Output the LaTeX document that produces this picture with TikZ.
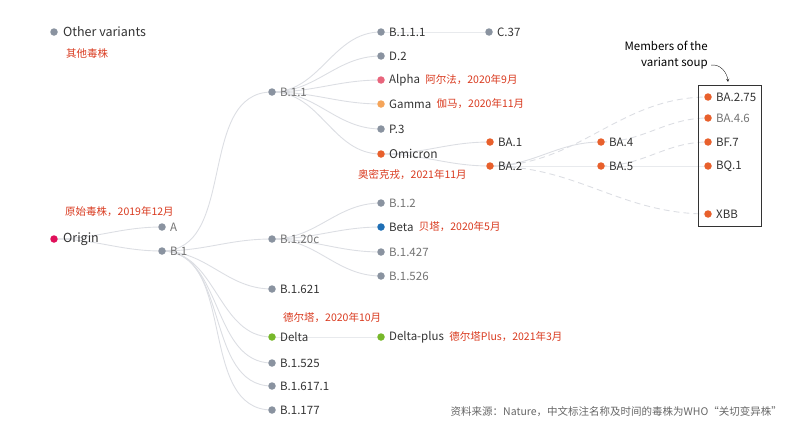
\documentclass[tikz,border=0pt]{standalone}
\usepackage{fontspec}
\setmainfont{Noto Sans CJK SC}
\usetikzlibrary{positioning}
\definecolor{dotgray}{HTML}{8A93A0}
\definecolor{omicol}{HTML}{E8602C}
\definecolor{alphacol}{HTML}{E8657C}
\definecolor{gammacol}{HTML}{F5A55A}
\definecolor{betacol}{HTML}{1F6FB5}
\definecolor{deltacol}{HTML}{77B82A}
\definecolor{origcol}{HTML}{E0105A}
\definecolor{note}{HTML}{D93A1F}
\definecolor{edge}{HTML}{DCDEE3}
\tikzset{
  dot/.style={circle, fill=#1, inner sep=0pt, minimum size=7.5pt},
  vname/.style={font=\fontsize{11.5}{13}\selectfont, text=black!80, inner sep=1pt},
  grayname/.style={vname, text=black!55},
  cn/.style={font=\fontsize{10.5}{12}\selectfont, text=note, inner sep=0pt, anchor=west},
  tree/.style={draw=edge, line width=0.9pt},
  soup/.style={tree, dash pattern=on 6pt off 4pt}
}
\begin{document}
\begin{tikzpicture}[x=1pt,y=-1pt]
\useasboundingbox (0,0) rectangle (792,434);
% edges first, dots on top
\coordinate (cOrig) at (54,239);
\coordinate (cA) at (162,227);  \coordinate (cB1) at (162,251);
\coordinate (cB11) at (272,92); \coordinate (cB120) at (272,239);
\coordinate (cB1621) at (272,289); \coordinate (cDelta) at (272,337);
\coordinate (cB1525) at (272,363); \coordinate (cB16171) at (272,386);
\coordinate (cB1177) at (272,410);
\coordinate (cB111) at (381,32); \coordinate (cC37) at (489,32);
\coordinate (cD2) at (381,56); \coordinate (cAlpha) at (381,80);
\coordinate (cGamma) at (381,104); \coordinate (cP3) at (381,129);
\coordinate (cOmi) at (381,154);
\coordinate (cB12) at (381,203); \coordinate (cBeta) at (381,227);
\coordinate (cB1427) at (381,252); \coordinate (cB1526) at (381,276);
\coordinate (cDplus) at (381,337);
\coordinate (cBA1) at (490,142); \coordinate (cBA2) at (490,166);
\coordinate (cBA4) at (601,142); \coordinate (cBA5) at (601,166);
\coordinate (cBA275) at (708,97); \coordinate (cBA46) at (708,118);
\coordinate (cBF7) at (708,142); \coordinate (cBQ1) at (708,166);
\coordinate (cXBB) at (708,214);

\foreach \a/\b in {Orig/A, Orig/B1, B1/B11, B1/B120, B1/B1621, B1/Delta,
  B1/B1525, B1/B16171, B1/B1177, B11/B111, B111/C37, B11/D2, B11/Alpha,
  B11/Gamma, B11/P3, B11/Omi, Omi/BA1, Omi/BA2, BA2/BA4, BA2/BA5, BA5/BQ1,
  B120/B12, B120/Beta, B120/B1427, B120/B1526, Delta/Dplus}
  \draw[tree] (c\a) to[out=0, in=180] (c\b);
\foreach \a/\b in {BA2/BA275, BA4/BA46, BA5/BF7, BA2/XBB}
  \draw[soup] (c\a) to[out=0, in=180] (c\b);

% dots and names
\node[dot=dotgray] (other) at (54,32) {};
\node[vname, font=\fontsize{12.5}{14}\selectfont, right=4pt of other] {Other variants};
\node[cn] at (66,54) {其他毒株};
\node[dot=origcol] (origin) at (cOrig) {};
\node[vname, font=\fontsize{12.5}{14}\selectfont, right=4pt of origin] {Origin};
\node[cn] at (65,212) {原始毒株，2019年12月};
\node[dot=dotgray] (A) at (cA) {};       \node[grayname, right=3pt of A] {A};
\node[dot=dotgray] (B1) at (cB1) {};     \node[grayname, right=3pt of B1] {B.1};
\node[dot=dotgray] (B11) at (cB11) {};   \node[grayname, right=3pt of B11] {B.1.1};
\node[dot=dotgray] (B120) at (cB120) {}; \node[grayname, right=3pt of B120] {B.1.20c};
\node[dot=dotgray] (B1621) at (cB1621) {}; \node[vname, right=3pt of B1621] {B.1.621};
\node[dot=deltacol] (Delta) at (cDelta) {}; \node[vname, right=3pt of Delta] {Delta};
\node[cn] at (283,318) {德尔塔，2020年10月};
\node[dot=dotgray] (B1525) at (cB1525) {}; \node[vname, right=3pt of B1525] {B.1.525};
\node[dot=dotgray] (B16171) at (cB16171) {}; \node[vname, right=3pt of B16171] {B.1.617.1};
\node[dot=dotgray] (B1177) at (cB1177) {}; \node[vname, right=3pt of B1177] {B.1.177};
\node[dot=dotgray] (B111) at (cB111) {}; \node[vname, right=3pt of B111] {B.1.1.1};
\node[dot=dotgray] (C37) at (cC37) {};   \node[vname, right=3pt of C37] {C.37};
\node[dot=dotgray] (D2) at (cD2) {};     \node[vname, right=3pt of D2] {D.2};
\node[dot=alphacol] (Alpha) at (cAlpha) {}; \node[vname, right=3pt of Alpha] (alphan) {Alpha};
\node[cn, right=4pt of alphan] {阿尔法，2020年9月};
\node[dot=gammacol] (Gamma) at (cGamma) {}; \node[vname, right=3pt of Gamma] (gamman) {Gamma};
\node[cn, right=4pt of gamman] {伽马，2020年11月};
\node[dot=dotgray] (P3) at (cP3) {};     \node[vname, right=3pt of P3] {P.3};
\node[dot=omicol] (Omi) at (cOmi) {};    \node[vname, font=\fontsize{12}{14}\selectfont, right=3pt of Omi] {Omicron};
\node[cn] at (358,175) {奥密克戎，2021年11月};
\node[dot=dotgray] (B12) at (cB12) {};   \node[grayname, right=3pt of B12] {B.1.2};
\node[dot=betacol] (Beta) at (cBeta) {}; \node[vname, right=3pt of Beta] (betan) {Beta};
\node[cn, right=4pt of betan] {贝塔，2020年5月};
\node[dot=dotgray] (B1427) at (cB1427) {}; \node[grayname, right=3pt of B1427] {B.1.427};
\node[dot=dotgray] (B1526) at (cB1526) {}; \node[grayname, right=3pt of B1526] {B.1.526};
\node[dot=deltacol] (Dplus) at (cDplus) {}; \node[vname, right=3pt of Dplus] (dplusn) {Delta-plus};
\node[cn, right=4pt of dplusn] {德尔塔Plus，2021年3月};
\node[dot=omicol] (BA1) at (cBA1) {};    \node[vname, right=3pt of BA1] {BA.1};
\node[dot=omicol] (BA2) at (cBA2) {};    \node[vname, right=3pt of BA2] {BA.2};
\node[dot=omicol] (BA4) at (cBA4) {};    \node[vname, right=3pt of BA4] {BA.4};
\node[dot=omicol] (BA5) at (cBA5) {};    \node[vname, right=3pt of BA5] {BA.5};
\node[dot=omicol] (BA275) at (cBA275) {}; \node[vname, right=3pt of BA275] {BA.2.75};
\node[dot=omicol] (BA46) at (cBA46) {};  \node[grayname, right=3pt of BA46] {BA.4.6};
\node[dot=omicol] (BF7) at (cBF7) {};    \node[vname, right=3pt of BF7] {BF.7};
\node[dot=omicol] (BQ1) at (cBQ1) {};    \node[vname, right=3pt of BQ1] {BQ.1};
\node[dot=omicol] (XBB) at (cXBB) {};    \node[vname, right=3pt of XBB] {XBB};

% the soup box
\draw[line width=1pt, black!80] (698,85) rectangle (761,226);
\node[align=right, anchor=east, font=\fontsize{11.5}{16}\selectfont, inner sep=0pt] (soupnote) at (708,55) {Members of the\\variant soup};
\coordinate (soupend) at (728,82);
\draw[-stealth, black!85] (soupnote.south east) ++(3,-4) to[out=10, in=95] (soupend);

\node[anchor=east, font=\fontsize{10.5}{12}\selectfont, text=black!60, inner sep=0pt] at (782,412) {资料来源：Nature，中文标注名称及时间的毒株为WHO“关切变异株”};
\end{tikzpicture}
\end{document}
